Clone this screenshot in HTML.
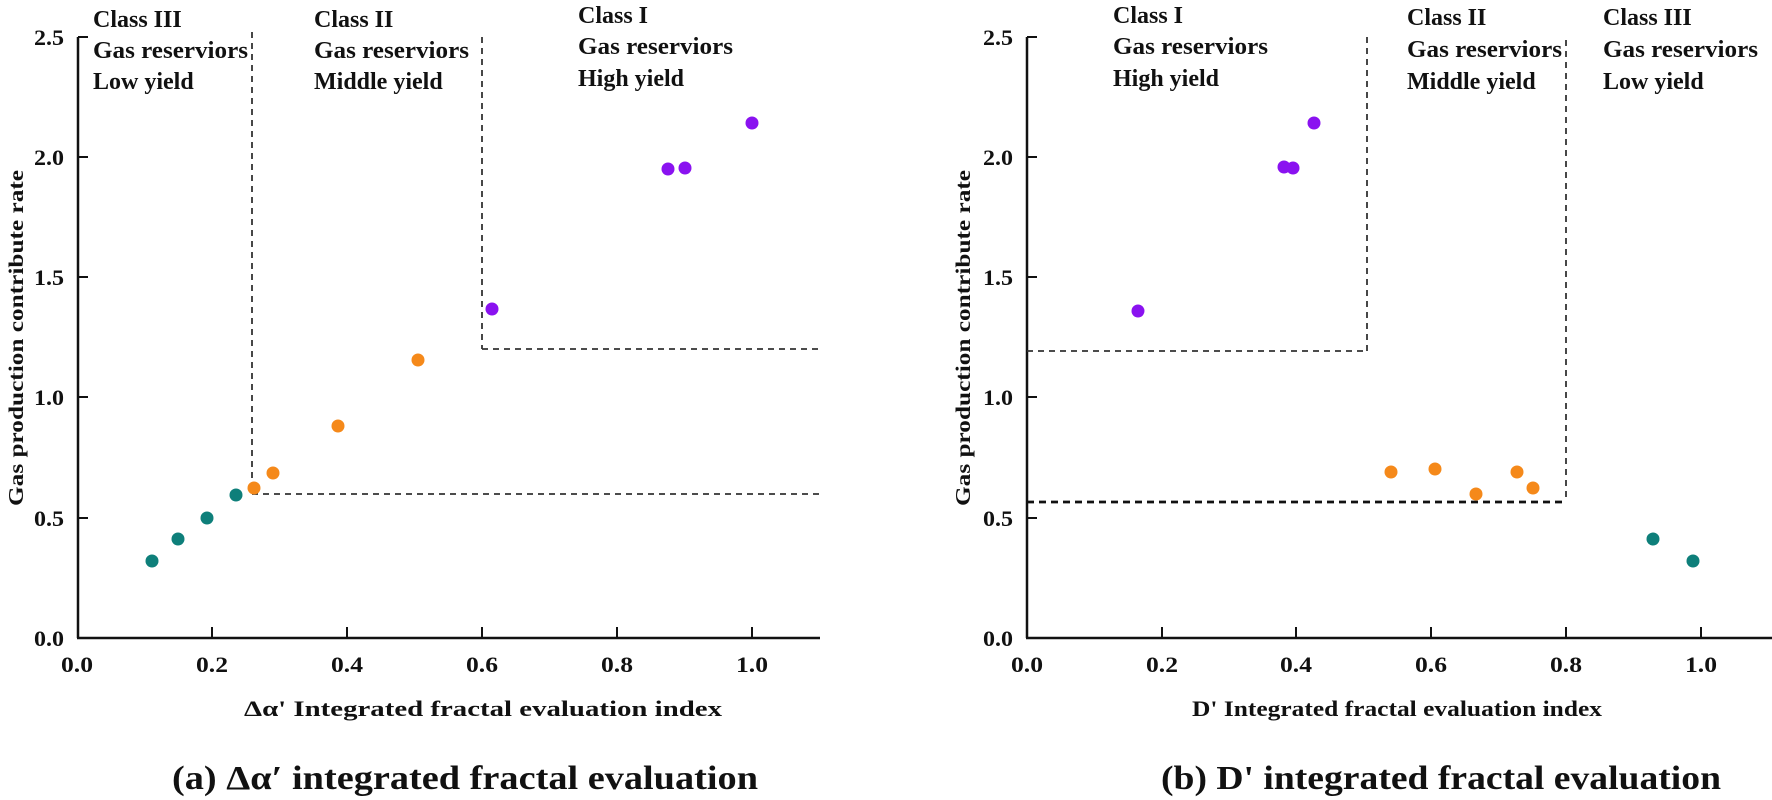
<!DOCTYPE html>
<html><head><meta charset="utf-8"><style>
html,body{margin:0;padding:0;background:#fff}
svg{display:block}
text{font-family:"Liberation Serif",serif;font-weight:bold;fill:#111}
</style></head><body>
<svg width="1772" height="800" viewBox="0 0 1772 800" xmlns="http://www.w3.org/2000/svg">
<!-- LEFT CHART -->
<g stroke="#111" stroke-width="2.5" fill="none">
<line x1="78" y1="37" x2="78" y2="638"/>
<line x1="77" y1="638" x2="820" y2="638"/>
</g>
<g stroke="#111" stroke-width="2">
<line x1="78" y1="37" x2="88" y2="37"/><line x1="78" y1="157" x2="88" y2="157"/><line x1="78" y1="277" x2="88" y2="277"/><line x1="78" y1="397" x2="88" y2="397"/><line x1="78" y1="518" x2="88" y2="518"/>
<line x1="212" y1="638" x2="212" y2="627"/><line x1="347" y1="638" x2="347" y2="627"/><line x1="482" y1="638" x2="482" y2="627"/><line x1="617" y1="638" x2="617" y2="627"/><line x1="752" y1="638" x2="752" y2="627"/>
</g>
<g font-size="22">
<text x="34" y="45" textLength="30" lengthAdjust="spacingAndGlyphs">2.5</text><text x="34" y="165" textLength="30" lengthAdjust="spacingAndGlyphs">2.0</text><text x="34" y="285" textLength="30" lengthAdjust="spacingAndGlyphs">1.5</text><text x="34" y="405" textLength="30" lengthAdjust="spacingAndGlyphs">1.0</text><text x="34" y="526" textLength="30" lengthAdjust="spacingAndGlyphs">0.5</text><text x="34" y="646" textLength="30" lengthAdjust="spacingAndGlyphs">0.0</text>
</g>
<g font-size="22">
<text x="61" y="672" textLength="32" lengthAdjust="spacingAndGlyphs">0.0</text><text x="196" y="672" textLength="32" lengthAdjust="spacingAndGlyphs">0.2</text><text x="331" y="672" textLength="32" lengthAdjust="spacingAndGlyphs">0.4</text><text x="466" y="672" textLength="32" lengthAdjust="spacingAndGlyphs">0.6</text><text x="601" y="672" textLength="32" lengthAdjust="spacingAndGlyphs">0.8</text><text x="736" y="672" textLength="32" lengthAdjust="spacingAndGlyphs">1.0</text>
</g>
<text x="0" y="0" font-size="21" font-weight="normal" transform="translate(23,338) rotate(-90)" text-anchor="middle" textLength="336" lengthAdjust="spacingAndGlyphs">Gas production contribute rate</text>
<text x="244" y="716" font-size="22" textLength="478" lengthAdjust="spacingAndGlyphs">Δα' Integrated fractal evaluation index</text>
<text x="172" y="789" font-size="34" textLength="586" lengthAdjust="spacingAndGlyphs">(a)  Δα′  integrated fractal evaluation</text>
<g stroke="#333" stroke-width="1.8" stroke-dasharray="6,5" fill="none">
<line x1="252" y1="32" x2="252" y2="494"/>
<line x1="252" y1="494" x2="820" y2="494"/>
<line x1="482" y1="37" x2="482" y2="349"/>
<line x1="482" y1="349" x2="820" y2="349"/>
</g>
<g font-size="24">
<text x="93" y="27">Class III</text><text x="93" y="58" textLength="155" lengthAdjust="spacingAndGlyphs">Gas reserviors</text><text x="93" y="89">Low yield</text>
<text x="314" y="27">Class II</text><text x="314" y="58" textLength="155" lengthAdjust="spacingAndGlyphs">Gas reserviors</text><text x="314" y="89">Middle yield</text>
<text x="578" y="23">Class I</text><text x="578" y="54" textLength="155" lengthAdjust="spacingAndGlyphs">Gas reserviors</text><text x="578" y="86">High yield</text>
</g>
<g fill="#0e7f7a"><circle cx="152" cy="561" r="6.5"/><circle cx="178" cy="539" r="6.5"/><circle cx="207" cy="518" r="6.5"/><circle cx="236" cy="495" r="6.5"/></g>
<g fill="#f5891a"><circle cx="254" cy="488" r="6.5"/><circle cx="273" cy="473" r="6.5"/><circle cx="338" cy="426" r="6.5"/><circle cx="418" cy="360" r="6.5"/></g>
<g fill="#8a12f0"><circle cx="492" cy="309" r="6.5"/><circle cx="668" cy="169" r="6.5"/><circle cx="685" cy="168" r="6.5"/><circle cx="752" cy="123" r="6.5"/></g>

<!-- RIGHT CHART -->
<g stroke="#111" stroke-width="2.5" fill="none">
<line x1="1027" y1="37" x2="1027" y2="638"/>
<line x1="1026" y1="638" x2="1772" y2="638"/>
</g>
<g stroke="#111" stroke-width="2">
<line x1="1027" y1="37" x2="1037" y2="37"/><line x1="1027" y1="157" x2="1037" y2="157"/><line x1="1027" y1="277" x2="1037" y2="277"/><line x1="1027" y1="397" x2="1037" y2="397"/><line x1="1027" y1="518" x2="1037" y2="518"/>
<line x1="1162" y1="638" x2="1162" y2="627"/><line x1="1296" y1="638" x2="1296" y2="627"/><line x1="1431" y1="638" x2="1431" y2="627"/><line x1="1566" y1="638" x2="1566" y2="627"/><line x1="1701" y1="638" x2="1701" y2="627"/>
</g>
<g font-size="22">
<text x="983" y="45" textLength="30" lengthAdjust="spacingAndGlyphs">2.5</text><text x="983" y="165" textLength="30" lengthAdjust="spacingAndGlyphs">2.0</text><text x="983" y="285" textLength="30" lengthAdjust="spacingAndGlyphs">1.5</text><text x="983" y="405" textLength="30" lengthAdjust="spacingAndGlyphs">1.0</text><text x="983" y="526" textLength="30" lengthAdjust="spacingAndGlyphs">0.5</text><text x="983" y="646" textLength="30" lengthAdjust="spacingAndGlyphs">0.0</text>
</g>
<g font-size="22">
<text x="1011" y="672" textLength="32" lengthAdjust="spacingAndGlyphs">0.0</text><text x="1146" y="672" textLength="32" lengthAdjust="spacingAndGlyphs">0.2</text><text x="1280" y="672" textLength="32" lengthAdjust="spacingAndGlyphs">0.4</text><text x="1415" y="672" textLength="32" lengthAdjust="spacingAndGlyphs">0.6</text><text x="1550" y="672" textLength="32" lengthAdjust="spacingAndGlyphs">0.8</text><text x="1685" y="672" textLength="32" lengthAdjust="spacingAndGlyphs">1.0</text>
</g>
<text x="0" y="0" font-size="21" font-weight="normal" transform="translate(970,338) rotate(-90)" text-anchor="middle" textLength="336" lengthAdjust="spacingAndGlyphs">Gas production contribute rate</text>
<text x="1192" y="716" font-size="22" textLength="410" lengthAdjust="spacingAndGlyphs">D' Integrated fractal evaluation index</text>
<text x="1161" y="789" font-size="34" textLength="560" lengthAdjust="spacingAndGlyphs">(b) D' integrated fractal evaluation</text>
<g stroke="#333" stroke-width="1.8" stroke-dasharray="6,5" fill="none">
<line x1="1367" y1="37" x2="1367" y2="351"/>
<line x1="1027" y1="351" x2="1367" y2="351"/>
<line x1="1566" y1="40" x2="1566" y2="502"/>
</g>
<line x1="1027" y1="502" x2="1566" y2="502" stroke="#111" stroke-width="2.8" stroke-dasharray="7,5"/>
<g font-size="24">
<text x="1113" y="23">Class I</text><text x="1113" y="54" textLength="155" lengthAdjust="spacingAndGlyphs">Gas reserviors</text><text x="1113" y="86">High yield</text>
<text x="1407" y="25">Class II</text><text x="1407" y="57" textLength="155" lengthAdjust="spacingAndGlyphs">Gas reserviors</text><text x="1407" y="89">Middle yield</text>
<text x="1603" y="25">Class III</text><text x="1603" y="57" textLength="155" lengthAdjust="spacingAndGlyphs">Gas reserviors</text><text x="1603" y="89">Low yield</text>
</g>
<g fill="#8a12f0"><circle cx="1138" cy="311" r="6.5"/><circle cx="1284" cy="167" r="6.5"/><circle cx="1293" cy="168" r="6.5"/><circle cx="1314" cy="123" r="6.5"/></g>
<g fill="#f5891a"><circle cx="1391" cy="472" r="6.5"/><circle cx="1435" cy="469" r="6.5"/><circle cx="1476" cy="494" r="6.5"/><circle cx="1517" cy="472" r="6.5"/><circle cx="1533" cy="488" r="6.5"/></g>
<g fill="#0e7f7a"><circle cx="1653" cy="539" r="6.5"/><circle cx="1693" cy="561" r="6.5"/></g>
</svg>
</body></html>
